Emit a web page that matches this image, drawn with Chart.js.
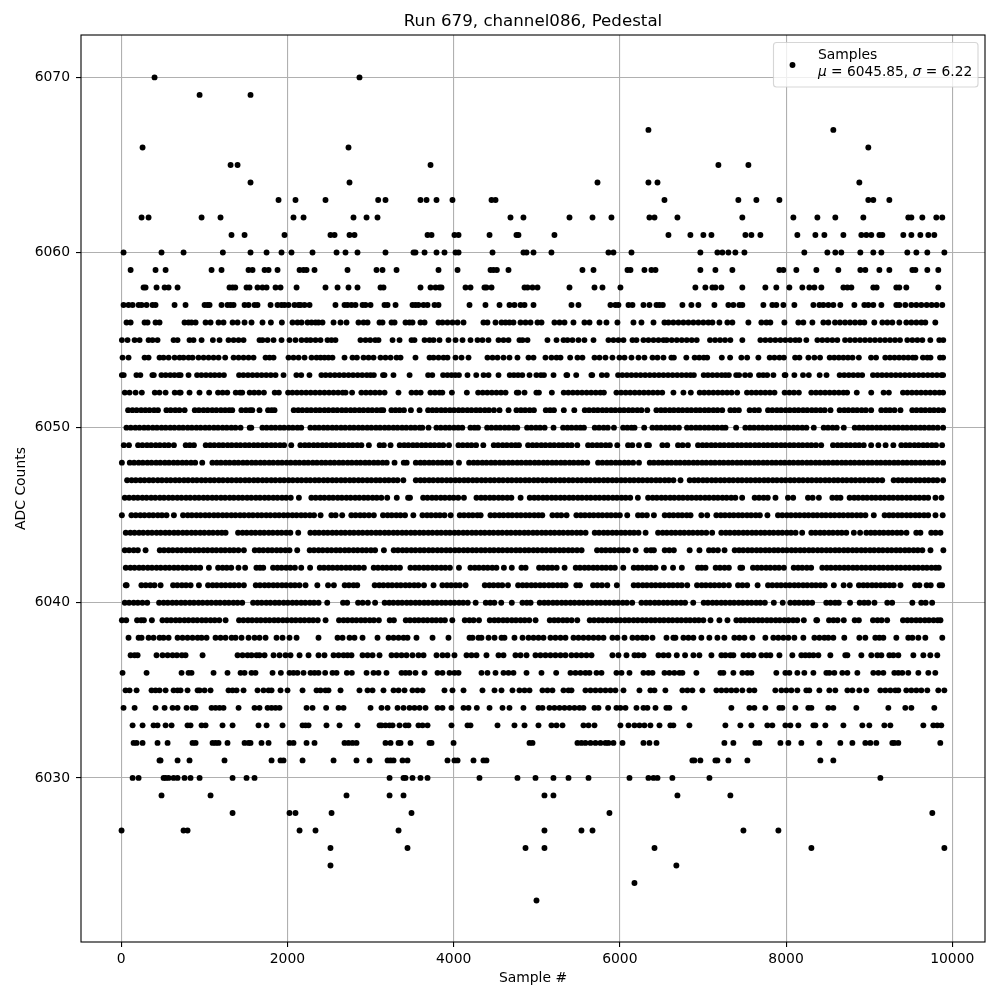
<!DOCTYPE html>
<html>
<head>
  <meta charset="UTF-8">
  <title>Run 679, channel086, Pedestal</title>
  <script src="https://cdn.jsdelivr.net/npm/chart.js"></script>
  <style>
    html, body { margin: 0; padding: 0; background: #fff; }
    canvas { display: block; }
  </style>
</head>
<body>
  <canvas id="pedestal" width="1000" height="1000"></canvas>
  <script>
    const xTickValues = [0, 2000, 4000, 6000, 8000, 10000];
    const yTickValues = [6030, 6040, 6050, 6060, 6070];

    // sample numbers, one list per ADC level
    const s6070 = [401,2867];
    const s6069 = [943,1556];
    const s6067 = [6344,8569];
    const s6066 = [257,2735,8990];
    const s6065 = [1316,1400,3722,7186,7547];
    const s6064 = [1556,2747,5731,6344,6453,8882];
    const s6063 = [1893,2097,2458,3092,3180,3601,3674,3794,3986,4456,4504,6537,7426,7643,7920,8990,9050,9243];
    const s6062 = [245,329,967,1195,2073,2194,2795,2952,3084,4684,4840,5394,5671,5899,6356,6417,6693,7474,8088,8377,8593,8930,9471,9508,9640,9808,9880];
    const s6061 = [1327,1484,1965,2518,2567,2747,2807,3686,3734,4010,4059,4432,4756,4780,5213,6585,6849,7005,7102,7511,7583,7691,8136,8353,8461,8690,8906,8966,9026,9123,9159,9411,9508,9616,9712,9784];
    const s6060 = [28,485,750,1223,1556,1749,1929,2049,2302,2591,2699,2843,3180,3517,3541,3650,3794,3890,4023,4059,4468,4840,4877,4961,5177,5863,5923,6140,6969,7174,7234,7306,7390,7499,8220,8497,8593,8665,8894,9050,9147,9459,9568,9700,9905];
    const s6059 = [113,413,534,1087,1207,1532,1580,1725,1773,1881,2146,2194,2230,2326,2723,3072,3144,3313,3818,4047,4444,4480,4520,4660,5550,5683,6092,6128,6296,6380,6429,6969,7150,7354,7920,7968,8124,8365,8629,8894,8954,9123,9243,9520,9556,9700,9832];
    const s6058 = [269,293,425,522,570,678,1303,1340,1372,1508,1544,1640,1700,1749,1857,1917,2110,2458,2603,2735,2843,3120,3156,3601,3722,3782,3830,3854,4143,4203,4371,4395,4456,4853,4889,4949,5009,5394,5695,5791,6007,6909,7029,7114,7150,7222,7474,7751,7883,8040,8196,8280,8341,8425,8690,8738,8786,9050,9090,9327,9363,9447,9832];
    const s6057 = [28,88,137,209,245,305,377,413,642,774,1003,1039,1063,1207,1279,1316,1352,1484,1532,1604,1640,1797,1881,1929,1965,2013,2085,2134,2158,2206,2266,2578,2687,2723,2771,2819,2904,2940,3000,3168,3205,3301,3505,3541,3577,3638,3686,3770,3818,4191,4383,4552,4672,4732,4805,4853,4961,5418,5502,5887,5947,5983,6104,6152,6284,6356,6441,6477,6517,6753,6861,6945,7138,7306,7366,7438,7474,7727,7835,7883,7968,8100,8329,8401,8449,8509,8569,8653,8822,8942,8990,9050,9147,9327,9363,9435,9508,9568,9628,9692,9752,9812,9880];
    const s6056 = [64,113,281,317,413,461,762,810,846,895,1015,1075,1171,1231,1340,1400,1484,1568,1700,1801,1933,2061,2121,2170,2242,2290,2338,2374,2422,2555,2639,2711,2855,2916,2964,3108,3144,3253,3289,3421,3469,3505,3601,3650,3818,3866,3926,3986,4047,4119,4359,4407,4504,4576,4624,4672,4720,4805,4865,4925,5009,5057,5213,5274,5334,5442,5574,5635,5755,5839,5971,6164,6260,6405,6537,6585,6644,6705,6765,6825,6885,6945,7005,7065,7114,7198,7294,7354,7547,7703,7763,7811,7980,8148,8208,8317,8449,8509,8589,8649,8710,8770,8830,8890,8942,9062,9159,9219,9279,9363,9447,9508,9568,9628,9676,9796];
    const s6055 = [8,76,161,221,329,377,437,630,678,822,870,967,1103,1183,1291,1352,1412,1472,1664,1700,1761,1833,1929,2025,2097,2170,2230,2278,2338,2398,2482,2530,2578,2879,2940,2996,3056,3096,3265,3349,3493,3529,3650,3710,3758,3830,3938,4023,4107,4203,4287,4347,4419,4540,4600,4660,4792,4829,4889,5129,5238,5322,5370,5430,5502,5574,5683,5863,5923,5983,6044,6152,6200,6284,6344,6405,6465,6525,6564,6624,6685,6745,6805,6865,6925,7085,7146,7206,7266,7330,7474,7691,7751,7811,7871,7932,7992,8052,8112,8160,8244,8377,8437,8497,8557,8617,8710,8770,8830,8890,8950,9010,9070,9131,9191,9251,9311,9371,9459,9520,9580,9640,9736,9844,9892];
    const s6054 = [16,88,281,329,461,509,570,642,702,750,810,858,930,991,1051,1111,1171,1251,1352,1412,1472,1532,1592,1737,1785,1833,2013,2073,2134,2206,2290,2350,2398,2446,2494,2542,2687,2783,2836,2916,2976,3036,3120,3180,3241,3313,3361,3541,3710,3758,3818,3878,3926,4023,4095,4179,4407,4468,4528,4600,4672,4768,4901,4961,5105,5177,5238,5286,5402,5490,5550,5695,5755,5827,5911,5995,6056,6140,6224,6296,6393,6453,6525,6620,6650,6800,6900,6955,7010,7051,7227,7327,7462,7532,7667,7803,7860,7920,7974,8109,8161,8269,8341,8409,8525,8580,8635,8690,8745,8800,8876,9023,9083,9194,9250,9305,9360,9415,9470,9525,9557,9647,9700,9738,9853,9890];
    const s6053 = [8,30,183,230,375,392,484,535,590,640,690,715,810,913,965,1020,1075,1125,1180,1236,1418,1470,1525,1580,1635,1690,1745,1800,1857,1953,2108,2166,2265,2409,2460,2515,2570,2625,2680,2735,2790,2845,2900,2955,3000,3040,3150,3168,3276,3470,3693,3743,3873,3925,3975,4020,4064,4167,4272,4360,4420,4540,4675,4725,4775,4826,4913,4996,5050,5087,5202,5357,5367,5475,5658,5668,5783,5843,5979,6030,6085,6140,6195,6250,6305,6360,6415,6470,6525,6580,6635,6690,6745,6800,6850,6891,7009,7060,7115,7170,7225,7270,7312,7400,7435,7507,7567,7675,7725,7773,7848,7983,7993,8100,8204,8274,8404,8487,8645,8700,8755,8810,8865,8916,9046,9100,9155,9210,9265,9320,9375,9430,9485,9540,9595,9650,9705,9760,9815,9870,9890];
    const s6052 = [43,100,173,248,404,460,534,644,700,715,822,942,1058,1165,1220,1276,1378,1430,1456,1546,1600,1655,1717,1847,1897,2008,2060,2115,2170,2225,2280,2335,2390,2445,2500,2555,2610,2665,2700,2778,2890,2945,3000,3055,3110,3169,3336,3493,3550,3603,3721,3775,3830,3864,3979,4159,4295,4350,4405,4460,4515,4570,4625,4760,4780,4853,4996,5026,5182,5325,5380,5435,5490,5545,5600,5655,5710,5765,5808,5959,6015,6070,6125,6180,6235,6290,6345,6400,6455,6510,6645,6765,6854,6961,7015,7070,7125,7180,7235,7290,7345,7412,7530,7585,7640,7695,7750,7805,7861,7983,8040,8095,8154,8304,8360,8415,8470,8525,8580,8635,8690,8735,8851,9025,9174,9237,9407,9460,9515,9570,9625,9680,9735,9790,9845,9890];
    const s6051 = [83,135,185,240,290,340,395,442,544,595,650,700,763,885,935,990,1040,1095,1145,1200,1250,1300,1336,1446,1500,1550,1577,1664,1767,1810,1845,2076,2130,2180,2235,2285,2340,2390,2445,2495,2550,2600,2655,2705,2760,2810,2865,2915,2970,3020,3075,3125,3153,3251,3300,3350,3402,3486,3590,3693,3745,3795,3850,3900,3955,4005,4060,4110,4165,4215,4270,4320,4375,4425,4485,4552,4661,4756,4810,4860,4915,4966,5109,5160,5207,5326,5452,5578,5630,5685,5735,5790,5840,5895,5945,6000,6050,6105,6155,6210,6260,6330,6440,6495,6545,6600,6650,6705,6755,6810,6860,6915,6965,7020,7070,7125,7175,7232,7330,7380,7432,7562,7620,7673,7783,7835,7890,7940,7995,8045,8100,8150,8205,8255,8310,8360,8415,8465,8535,8645,8700,8750,8805,8855,8910,8960,9024,9146,9200,9250,9305,9377,9519,9570,9625,9675,9730,9780,9835,9890];
    const s6050 = [63,115,170,220,275,325,380,430,485,535,590,640,695,745,800,850,905,955,1010,1060,1115,1165,1220,1270,1325,1375,1436,1546,1565,1699,1750,1805,1855,1910,1960,2015,2065,2120,2166,2276,2330,2380,2435,2485,2540,2590,2645,2695,2750,2800,2855,2905,2960,3010,3065,3115,3170,3220,3275,3325,3380,3430,3485,3535,3590,3623,3698,3793,3845,3900,3950,4005,4055,4104,4202,4250,4293,4403,4455,4510,4560,4615,4665,4720,4766,4884,4935,4990,5040,5095,5202,5317,5370,5420,5475,5525,5568,5698,5750,5805,5855,5929,6039,6090,6140,6177,6293,6392,6445,6495,6550,6600,6655,6711,6808,6860,6915,6965,7020,7070,7125,7175,7230,7272,7399,7510,7565,7615,7670,7720,7775,7825,7880,7930,7985,8035,8090,8140,8195,8245,8334,8453,8505,8560,8610,8695,8826,8880,8930,8985,9035,9090,9140,9195,9245,9300,9350,9405,9455,9510,9560,9615,9665,9720,9770,9825,9890];
    const s6049 = [31,93,203,255,310,360,415,465,520,570,634,776,825,875,1017,1070,1120,1175,1225,1280,1330,1385,1435,1490,1540,1595,1645,1700,1750,1805,1855,1910,1960,2046,2156,2210,2260,2315,2365,2420,2470,2525,2575,2630,2680,2735,2785,2840,2890,2980,3110,3160,3241,3351,3405,3455,3510,3560,3615,3665,3720,3770,3825,3875,3944,4058,4110,4165,4215,4270,4357,4483,4535,4590,4640,4695,4745,4786,4896,4950,5000,5055,5105,5160,5210,5265,5315,5370,5420,5488,5618,5670,5725,5775,5830,5880,5969,6099,6150,6230,6328,6350,6512,6570,6700,6755,6819,6941,6995,7045,7100,7150,7205,7255,7310,7360,7415,7465,7520,7570,7625,7675,7730,7780,7835,7885,7940,7990,8045,8095,8150,8200,8255,8305,8360,8423,8565,8620,8670,8725,8775,8830,8880,8935,9024,9111,9198,9291,9387,9440,9490,9545,9595,9650,9700,9755,9805,9878];
    const s6048 = [8,103,155,210,260,315,365,420,470,525,575,630,680,735,785,840,890,975,1097,1150,1200,1255,1305,1360,1410,1465,1515,1570,1620,1675,1725,1780,1830,1885,1935,1990,2040,2095,2145,2200,2250,2305,2355,2410,2460,2515,2565,2620,2670,2725,2775,2830,2880,2935,2985,3040,3090,3145,3195,3289,3400,3435,3545,3600,3650,3705,3755,3810,3860,3915,3965,4064,4186,4240,4290,4345,4395,4450,4500,4555,4605,4660,4710,4765,4815,4870,4920,4975,5025,5080,5130,5185,5235,5290,5340,5395,5445,5500,5550,5608,5738,5790,5845,5895,5950,6000,6055,6105,6160,6230,6360,6410,6465,6515,6570,6620,6675,6725,6780,6830,6885,6935,6990,7040,7095,7145,7200,7250,7305,7355,7410,7460,7515,7565,7620,7670,7725,7775,7830,7880,7935,7985,8040,8090,8145,8195,8250,8300,8355,8405,8460,8510,8565,8615,8670,8720,8775,8825,8880,8930,8985,9035,9090,9140,9195,9245,9300,9350,9405,9455,9510,9560,9615,9665,9720,9770,9825,9890];
    const s6047 = [71,125,175,230,280,335,385,440,490,545,595,650,700,755,805,860,910,965,1015,1070,1120,1175,1225,1280,1330,1385,1435,1490,1540,1595,1645,1700,1750,1805,1855,1910,1960,2015,2065,2120,2170,2225,2275,2330,2380,2435,2485,2540,2590,2645,2695,2750,2800,2855,2905,2960,3010,3065,3115,3170,3220,3275,3325,3395,3545,3600,3650,3705,3755,3810,3860,3915,3965,4020,4070,4125,4175,4230,4280,4335,4385,4440,4490,4545,4595,4650,4700,4755,4805,4860,4910,4965,5015,5070,5120,5175,5225,5280,5330,5385,5435,5490,5540,5595,5645,5700,5750,5805,5855,5910,5960,6015,6065,6120,6170,6225,6275,6330,6380,6435,6485,6540,6590,6645,6730,6841,6895,6945,7000,7050,7105,7155,7210,7260,7315,7365,7420,7470,7525,7575,7630,7680,7735,7785,7840,7890,7945,7995,8050,8100,8155,8205,8260,8310,8365,8415,8470,8520,8575,8625,8680,8730,8785,8835,8890,8940,8995,9045,9100,9157,9295,9350,9400,9455,9505,9560,9610,9665,9715,9770,9820,9890];
    const s6046 = [43,95,150,200,255,305,360,410,465,515,570,620,675,725,780,830,885,935,990,1040,1095,1145,1200,1250,1305,1355,1410,1460,1515,1565,1620,1670,1725,1775,1830,1880,1935,1985,2040,2138,2288,2340,2395,2445,2500,2550,2605,2655,2710,2760,2815,2865,2920,2970,3025,3075,3130,3201,3316,3452,3475,3633,3685,3740,3790,3845,3895,3950,4000,4055,4124,4275,4330,4380,4435,4485,4540,4590,4645,4695,4806,4916,4970,5020,5075,5125,5180,5230,5285,5335,5390,5440,5495,5545,5600,5650,5705,5755,5810,5860,5915,5965,6020,6070,6125,6217,6340,6395,6445,6500,6550,6605,6655,6710,6760,6815,6865,6920,6970,7025,7075,7130,7180,7235,7285,7340,7390,7472,7622,7675,7730,7780,7873,8023,8086,8264,8320,8395,8557,8610,8655,8765,8820,8870,8925,8975,9030,9080,9135,9185,9240,9290,9345,9395,9450,9500,9555,9605,9660,9710,9798,9870];
    const s6045 = [8,123,175,230,280,335,385,440,490,545,634,744,800,850,905,955,1010,1060,1115,1165,1220,1270,1325,1375,1430,1480,1535,1585,1640,1690,1745,1795,1850,1900,1955,2005,2060,2110,2165,2215,2270,2320,2399,2529,2580,2659,2769,2820,2875,2925,2980,3040,3150,3205,3255,3310,3360,3415,3515,3625,3680,3730,3785,3835,3890,3964,4074,4125,4180,4230,4285,4325,4443,4495,4550,4600,4655,4705,4760,4810,4865,4915,4970,5020,5067,5189,5245,5295,5359,5477,5530,5580,5635,5685,5740,5790,5845,5895,5950,6000,6089,6219,6270,6325,6410,6540,6595,6645,6700,6750,6805,6851,6981,7051,7161,7215,7265,7320,7370,7425,7475,7530,7580,7635,7685,7776,7903,7955,8010,8060,8115,8165,8220,8270,8325,8375,8430,8480,8535,8585,8640,8690,8745,8795,8850,8900,8955,9056,9186,9240,9290,9345,9395,9450,9500,9555,9605,9660,9710,9798,9885];
    const s6044 = [55,110,160,215,265,320,370,425,475,530,580,635,685,740,790,845,895,950,1000,1055,1105,1160,1210,1256,1406,1460,1510,1565,1615,1670,1720,1775,1825,1880,1930,1985,2035,2130,2276,2330,2380,2435,2485,2540,2590,2645,2695,2750,2800,2855,2905,2960,3010,3065,3115,3170,3220,3275,3325,3380,3430,3485,3535,3590,3640,3695,3745,3800,3850,3905,3955,4010,4060,4115,4165,4220,4270,4325,4375,4430,4480,4535,4585,4640,4690,4745,4795,4850,4900,4955,5005,5060,5110,5165,5215,5270,5320,5375,5425,5480,5530,5588,5698,5750,5805,5855,5910,5960,6015,6065,6120,6170,6225,6310,6460,6515,6565,6620,6670,6725,6775,6830,6880,6935,6985,7040,7111,7221,7275,7325,7380,7430,7485,7535,7590,7640,7695,7745,7800,7850,7905,7955,8010,8060,8115,8194,8304,8355,8410,8460,8515,8565,8620,8670,8725,8816,8891,8966,9020,9070,9125,9175,9230,9280,9335,9385,9449,9567,9617,9747,9800,9858];
    const s6043 = [43,95,150,200,293,464,515,570,620,675,725,780,830,885,935,990,1040,1095,1145,1200,1250,1305,1355,1410,1476,1607,1660,1710,1765,1815,1870,1920,1975,2025,2118,2268,2320,2375,2425,2480,2530,2585,2635,2690,2740,2795,2845,2900,2950,3005,3055,3161,3279,3330,3385,3435,3490,3540,3595,3645,3700,3750,3805,3855,3910,3960,4015,4065,4120,4170,4225,4275,4330,4380,4435,4485,4540,4590,4645,4695,4750,4800,4855,4905,4960,5010,5065,5115,5170,5220,5275,5325,5380,5430,5485,5540,5726,5780,5830,5885,5935,5990,6040,6095,6190,6320,6375,6410,6540,6595,6650,6840,6958,7073,7125,7180,7260,7382,7435,7485,7540,7590,7645,7695,7750,7800,7855,7905,7960,8010,8065,8115,8170,8220,8275,8325,8380,8430,8485,8535,8590,8640,8695,8745,8800,8850,8905,8955,9010,9060,9115,9165,9220,9270,9325,9375,9430,9480,9535,9585,9640,9738,9893];
    const s6042 = [55,110,160,215,265,320,370,425,475,530,580,635,685,740,790,845,895,950,1055,1166,1220,1270,1324,1411,1491,1627,1670,1709,1827,1880,1930,1985,2035,2090,2166,2273,2389,2440,2495,2545,2600,2650,2705,2755,2810,2860,2920,3038,3090,3145,3195,3250,3300,3354,3480,3535,3585,3640,3690,3745,3795,3850,3900,3955,4064,4202,4255,4305,4360,4410,4465,4515,4605,4700,4816,4866,5028,5080,5135,5185,5240,5335,5469,5520,5575,5625,5680,5730,5785,5835,5890,5940,6041,6167,6220,6270,6325,6375,6430,6530,6640,6746,6941,6985,7031,7153,7205,7260,7312,7450,7472,7602,7655,7705,7760,7810,7865,7915,7974,8092,8145,8195,8250,8302,8436,8490,8540,8595,8645,8700,8750,8805,8855,8910,8960,9015,9065,9120,9170,9225,9275,9330,9380,9435,9485,9540,9590,9645,9695,9750,9800,9838];
    const s6041 = [55,65,243,295,350,400,474,624,675,730,780,835,935,1045,1100,1150,1205,1255,1310,1360,1415,1476,1619,1670,1725,1775,1830,1880,1935,1985,2040,2090,2145,2218,2360,2489,2559,2689,2740,2795,2840,3050,3105,3155,3210,3260,3315,3365,3420,3470,3525,3575,3643,3758,3865,3920,3970,4025,4075,4144,4375,4430,4480,4535,4585,4654,4776,4830,4880,4935,4985,5040,5090,5145,5195,5250,5300,5347,5477,5520,5678,5730,5785,5849,5964,6167,6220,6275,6325,6380,6430,6485,6535,6590,6640,6695,6745,6811,6929,6985,7035,7090,7140,7195,7250,7312,7422,7475,7532,7658,7783,7835,7890,7940,7995,8045,8100,8150,8205,8255,8310,8360,8415,8465,8575,8693,8767,8877,8930,8980,9035,9085,9140,9190,9245,9295,9377,9552,9604,9692,9741,9848,9878];
    const s6040 = [43,95,150,200,255,313,456,510,560,615,665,720,770,825,875,930,980,1035,1085,1140,1190,1245,1295,1350,1400,1456,1587,1640,1690,1745,1795,1850,1900,1955,2005,2060,2110,2165,2215,2270,2320,2375,2479,2669,2719,2850,2905,2968,3055,3170,3225,3275,3330,3380,3435,3485,3540,3590,3645,3695,3750,3800,3855,3905,3960,4010,4065,4115,4170,4265,4387,4440,4490,4573,4700,4828,4880,4926,5036,5090,5140,5195,5245,5300,5350,5405,5455,5510,5560,5615,5665,5720,5770,5825,5875,5930,5980,6035,6085,6149,6260,6315,6365,6420,6470,6525,6575,6630,6680,6735,6785,6883,7009,7060,7115,7165,7220,7270,7325,7375,7430,7480,7535,7585,7640,7690,7745,7853,7960,8051,8105,8155,8210,8260,8314,8484,8535,8590,8635,8770,8886,8940,8990,9064,9218,9277,9520,9627,9680,9758];
    const s6039 = [8,60,191,240,273,369,496,550,600,655,705,760,810,865,915,970,1020,1075,1125,1180,1256,1418,1470,1525,1575,1630,1680,1735,1785,1840,1890,1945,1995,2050,2100,2155,2205,2260,2310,2365,2459,2621,2675,2725,2780,2830,2885,2935,2990,3040,3100,3231,3281,3424,3475,3530,3580,3635,3685,3740,3790,3845,3895,3984,4134,4190,4240,4305,4435,4490,4540,4595,4645,4700,4750,4805,4855,4910,4986,5157,5210,5260,5315,5365,5420,5488,5638,5690,5745,5795,5850,5900,5955,6005,6060,6110,6165,6215,6270,6320,6375,6425,6480,6530,6585,6635,6690,6740,6795,6845,6900,6950,7005,7091,7198,7295,7402,7455,7505,7560,7610,7665,7715,7770,7820,7875,7925,7980,8030,8085,8135,8214,8364,8374,8517,8570,8620,8695,8826,8876,9046,9100,9150,9217,9407,9460,9510,9565,9615,9670,9720,9775,9825,9858];
    const s6038 = [88,209,245,329,389,461,509,570,678,738,798,858,919,967,1027,1135,1195,1255,1328,1376,1448,1532,1604,1664,1737,1869,1941,2025,2110,2374,2603,2663,2747,2807,2904,3084,3217,3277,3337,3397,3445,3553,3746,3938,4191,4227,4299,4335,4420,4492,4576,4612,4732,4829,4901,4961,5021,5081,5165,5225,5286,5346,5442,5502,5562,5623,5683,5743,5803,5911,5971,6056,6152,6212,6272,6320,6393,6561,6644,6669,6765,6825,6885,6981,7077,7174,7258,7378,7438,7499,7595,7751,7847,7907,7968,8028,8100,8208,8341,8401,8461,8509,8569,8701,8882,8954,9074,9123,9171,9327,9471,9520,9592,9676,9880];
    const s6037 = [113,161,197,425,497,558,618,670,730,774,979,1400,1460,1520,1568,1628,1664,1725,1833,1905,1977,2037,2146,2254,2374,2446,2555,2615,2675,2723,2771,2904,2964,3024,3108,3253,3313,3373,3433,3505,3577,3638,3794,3866,3926,4010,4155,4215,4275,4395,4540,4600,4744,4805,4877,4985,5045,5105,5165,5225,5286,5346,5418,5478,5538,5598,5659,5911,5983,6080,6176,6224,6284,6465,6525,6585,6685,6785,6885,6957,7102,7222,7270,7330,7366,7487,7547,7607,7703,7763,7811,7920,8076,8184,8232,8280,8329,8389,8533,8713,8738,8906,9026,9098,9147,9243,9291,9351,9532,9652,9736,9820];
    const s6036 = [16,305,726,810,846,1111,1279,1436,1484,1568,1616,1821,1921,2025,2073,2121,2194,2278,2326,2374,2454,2542,2591,2715,2775,2952,3036,3096,3192,3373,3421,3469,3541,3650,3806,3866,3950,4010,4059,4335,4407,4504,4600,4660,4720,4877,5057,5234,5406,5466,5526,5586,5635,5719,5779,5959,6020,6116,6284,6344,6393,6537,6596,6656,6717,6753,6921,7210,7246,7366,7474,7535,7583,7883,7992,8040,8136,8220,8329,8485,8521,8581,8677,8738,8858,9050,9111,9171,9303,9351,9399,9471,9592,9712,9796];
    const s6035 = [52,100,185,365,413,461,534,630,678,714,798,919,943,1003,1075,1291,1340,1388,1472,1640,1712,1773,1809,1917,2001,2182,2350,2398,2458,2494,2639,2867,2964,3024,3156,3277,3337,3409,3505,3565,3626,3890,3986,4119,4347,4492,4576,4708,4792,4853,4913,5069,5129,5189,5322,5382,5418,5586,5647,5707,5767,5827,5887,5947,6044,6236,6368,6417,6548,6753,6813,6873,6993,7162,7222,7282,7342,7402,7474,7559,7619,7871,7944,8004,8064,8136,8244,8280,8401,8521,8593,8738,8798,8882,8966,9135,9195,9255,9315,9351,9447,9508,9568,9628,9700,9832,9905];
    const s6034 = [28,161,413,522,618,678,786,858,895,1087,1135,1183,1231,1412,1604,1664,1761,1809,1857,1905,2230,2302,2466,2615,2675,3000,3132,3205,3325,3397,3469,3529,3590,3662,3806,3866,3974,4119,4179,4279,4432,4588,4672,4840,5021,5069,5153,5213,5274,5334,5394,5454,5514,5562,5695,5743,5859,5959,6007,6068,6200,6284,6332,6429,6560,6596,6777,7342,7559,7619,7751,7920,7956,8112,8268,8305,8509,8569,8846,9231,9435,9508,9784];
    const s6033 = [137,257,389,437,534,606,798,834,967,1015,1219,1340,1652,1749,1941,2182,2218,2254,2470,2627,2843,3108,3132,3180,3229,3265,3349,3421,3457,3577,3626,3686,3974,4167,4203,4528,4732,4853,5021,5177,5238,5310,5562,5623,5695,6007,6104,6176,6236,6296,6368,6477,6608,6644,6837,7270,7450,7583,7775,7835,7992,8052,8148,8329,8353,8473,8690,8918,9002,9183,9255,9652,9772,9820,9868];
    const s6032 = [149,185,257,437,558,858,895,1099,1135,1171,1279,1484,1532,1556,1688,1773,2025,2073,2230,2326,2687,2735,2783,2831,3180,3241,3337,3361,3481,3710,3734,3999,4913,4949,5490,5538,5586,5647,5707,5767,5827,5863,5923,6032,6284,6356,6441,7258,7366,7631,7679,7932,8028,8184,8401,8653,8798,8954,9014,9086,9279,9303,9351,9856];
    const s6031 = [461,473,678,822,1243,1809,1917,1953,2182,2555,2831,2988,3205,3241,3277,3385,3445,3926,4010,4047,4239,4359,4395,6873,6897,6969,7150,7174,7306,7535,8413,8569];
    const s6030 = [137,209,510,534,570,630,678,762,834,943,1340,1508,1604,3229,3397,3421,3505,3601,3686,4311,4768,4985,5201,5382,5623,6116,6344,6405,6453,6632,7078,9135];
    const s6029 = [485,1075,2711,3229,3397,5093,5201,6693,7330];
    const s6028 = [1340,2025,2097,2531,3493,5875,9760];
    const s6027 = [4,750,798,2146,2338,3337,5093,5538,5671,7487,7908];
    const s6026 = [2518,3445,4865,5093,6417,8305,9905];
    const s6025 = [2518,6680];
    const s6024 = [6176];
    const s6023 = [4997];

    const levels = [6070,6069,6067,6066,6065,6064,6063,6062,6061,6060,6059,6058,6057,6056,6055,6054,6053,6052,6051,6050,6049,6048,6047,6046,6045,6044,6043,6042,6041,6040,6039,6038,6037,6036,6035,6034,6033,6032,6031,6030,6029,6028,6027,6026,6025,6024,6023];
    const sampleLists = [s6070,s6069,s6067,s6066,s6065,s6064,s6063,s6062,s6061,s6060,s6059,s6058,s6057,s6056,s6055,s6054,s6053,s6052,s6051,s6050,s6049,s6048,s6047,s6046,s6045,s6044,s6043,s6042,s6041,s6040,s6039,s6038,s6037,s6036,s6035,s6034,s6033,s6032,s6031,s6030,s6029,s6028,s6027,s6026,s6025,s6024,s6023];

    const FONT = '"DejaVu Sans"';
    const points = [];
    levels.forEach((level, i) => {
      sampleLists[i].forEach(x => points.push({ x: x, y: level }));
    });

    // box around the axes and the legend with its italic mu and sigma
    const frameAndLegend = {
      id: "frameAndLegend",
      afterDraw(chart) {
        const c = chart.ctx;
        const a = chart.chartArea;
        c.save();
        c.strokeStyle = "#000";
        c.lineWidth = 1.1;
        c.strokeRect(a.left, a.top, a.right - a.left, a.bottom - a.top);

        c.beginPath();
        c.roundRect(773.5, 42.5, 204.5, 44.5, 3);
        c.fillStyle = "rgba(255,255,255,0.8)";
        c.fill();
        c.strokeStyle = "rgba(204,204,204,0.8)";
        c.lineWidth = 1.1;
        c.stroke();

        c.beginPath();
        c.arc(792.5, 65, 2.95, 0, Math.PI * 2);
        c.fillStyle = "#000";
        c.fill();

        c.textBaseline = "alphabetic";
        c.textAlign = "left";
        c.font = "13.9px " + FONT;
        c.fillText("Samples", 818, 59);
        const parts = [["italic", "μ"], ["normal", " = 6045.85, "], ["italic", "σ"], ["normal", " = 6.22"]];
        let x = 818;
        parts.forEach(p => {
          c.font = p[0] + " 13.75px " + FONT;
          c.fillText(p[1], x, 76);
          x += c.measureText(p[1]).width;
        });
        c.restore();
      }
    };

    new Chart(document.getElementById("pedestal"), {
      type: "scatter",
      data: {
        datasets: [{
          label: "Samples",
          data: points,
          backgroundColor: "#000",
          borderWidth: 0,
          pointRadius: 2.95,
          pointHoverRadius: 2.95
        }]
      },
      options: {
        responsive: false,
        animation: false,
        layout: { padding: { right: 15, left: 0, top: 0, bottom: 0 } },
        plugins: {
          legend: { display: false },
          tooltip: { enabled: false },
          title: {
            display: true,
            fullSize: false,
            text: "Run 679, channel086, Pedestal",
            color: "#000",
            font: { family: FONT, size: 16.67, weight: "normal" },
            padding: { top: 12, bottom: 3 }
          }
        },
        scales: {
          x: {
            type: "linear",
            min: -484,
            max: 10394,
            afterBuildTicks(axis) { axis.ticks = xTickValues.map(v => ({ value: v })); },
            afterFit(axis) { axis.height = 58; },
            grid: { color: "#b0b0b0", lineWidth: 1.1, tickColor: "#000", tickLength: 5 },
            border: { display: false },
            ticks: {
              color: "#000",
              padding: 4,
              maxRotation: 0,
              font: { family: FONT, size: 13.9 },
              callback: v => String(v)
            },
            title: {
              display: true,
              text: "Sample #",
              color: "#000",
              font: { family: FONT, size: 13.9 },
              padding: { top: 5, bottom: 13 }
            }
          },
          y: {
            type: "linear",
            min: 6020.63,
            max: 6072.42,
            afterBuildTicks(axis) { axis.ticks = yTickValues.map(v => ({ value: v })); },
            afterFit(axis) { axis.width = 81; },
            grid: { color: "#b0b0b0", lineWidth: 1.1, tickColor: "#000", tickLength: 5 },
            border: { display: false },
            ticks: {
              color: "#000",
              padding: 6,
              font: { family: FONT, size: 13.9 },
              callback: v => String(v)
            },
            title: {
              display: true,
              text: "ADC Counts",
              color: "#000",
              font: { family: FONT, size: 13.9 },
              padding: { top: 13, bottom: 0 }
            }
          }
        }
      },
      plugins: [frameAndLegend]
    });
  </script>
</body>
</html>
